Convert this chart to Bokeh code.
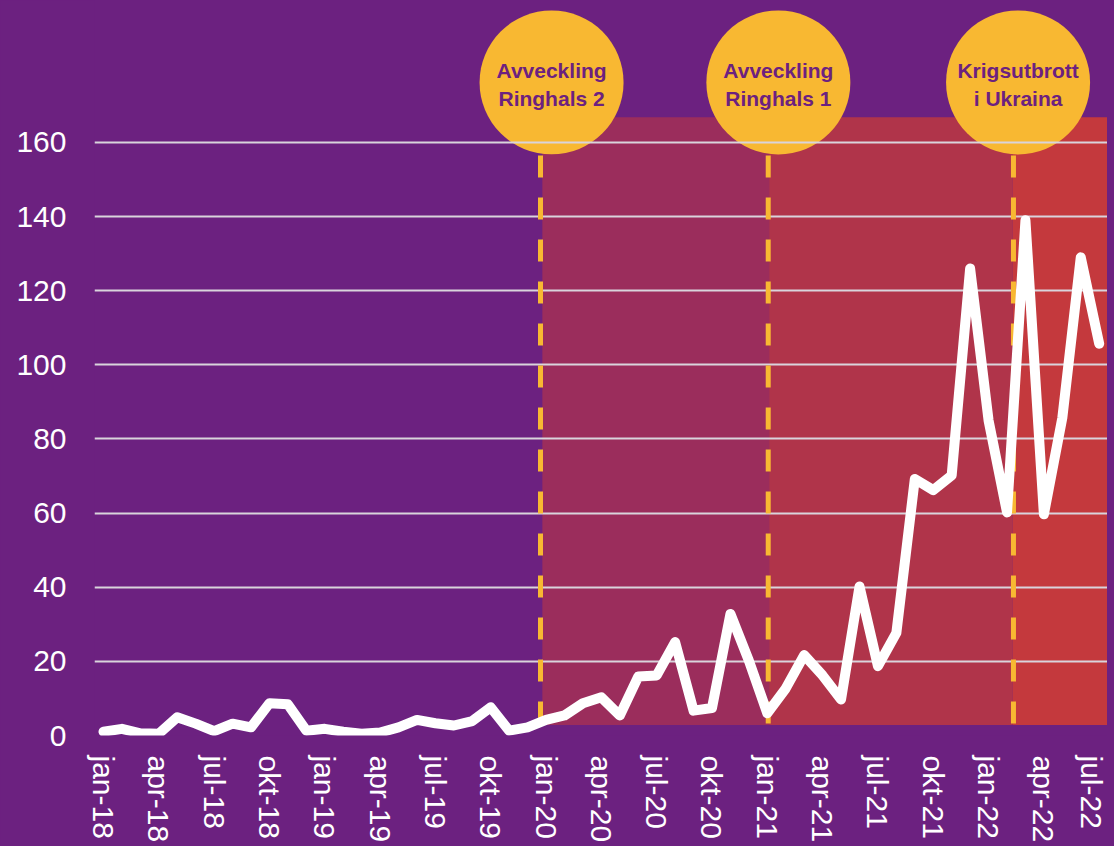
from bokeh.plotting import figure
from bokeh.models import FixedTicker, Range1d
from bokeh.core.properties import value
from bokeh.embed import file_html
from bokeh.resources import INLINE

# ---- data ----
month_index = list(range(55))  # jan-18 ... jul-22
prices = [1.0, 1.8, 0.6, 0.5, 4.9, 3.2, 1.2, 3.2, 2.2, 8.7,
          8.4, 1.3, 1.8, 1.0, 0.5, 0.8, 2.2, 4.2, 3.3, 2.7,
          3.9, 7.6, 1.3, 2.2, 4.2, 5.4, 8.7, 10.3, 5.4, 15.9,
          16.2, 25.2, 6.7, 7.4, 32.8, 20.2, 6.0, 12.7, 21.7, 16.2,
          9.7, 40.2, 18.7, 27.7, 69.2, 66.2, 70.2, 126.0, 85.0, 60.2,
          139.0, 59.7, 85.7, 129.0, 105.7]
tick_positions = [0, 3, 6, 9, 12, 15, 18, 21, 24, 27, 30, 33, 36, 39, 42, 45, 48, 51, 54]
tick_labels = ["jan-18", "apr-18", "jul-18", "okt-18", "jan-19", "apr-19", "jul-19", "okt-19",
               "jan-20", "apr-20", "jul-20", "okt-20", "jan-21", "apr-21", "jul-21", "okt-21",
               "jan-22", "apr-22", "jul-22"]
y_ticks = [0, 20, 40, 60, 80, 100, 120, 140, 160]

event_x = [23.7, 36.05, 49.35]
event_labels = ["Avveckling\nRinghals 2", "Avveckling\nRinghals 1", "Krigsutbrott\ni Ukraina"]
bubble_x = [24.3, 36.6, 49.6]
region_left = [23.8, 36.1, 49.3]
region_right = [36.1, 49.3, 54.6]
region_colors = ["#9B2D5C", "#B0344A", "#C4393D"]

PURPLE = "#6C2180"
YELLOW = "#F8B832"

p = figure(frame_width=1013, frame_height=735, output_backend="svg", toolbar_location=None,
           x_range=Range1d(-0.488, 54.45), y_range=Range1d(0, 198.3),
           min_border_left=94, min_border_right=0, min_border_top=0)
p.background_fill_alpha = 0
p.border_fill_color = PURPLE
p.outline_line_color = None

# shaded periods (below grid)
p.quad(left=region_left, right=region_right, bottom=[2.8] * 3, top=[166.8] * 3,
       fill_color=region_colors, line_color=None, level="image")

# bubbles (below grid)
p.scatter(x=bubble_x, y=[176.2] * 3, size=144, marker="circle",
          fill_color=YELLOW, line_color=None, level="image")
p.text(x=bubble_x, y=[176.2] * 3, text=event_labels, text_align="center",
       text_baseline="middle", text_font=value("Liberation Sans"), text_font_style="bold",
       text_font_size="21px", text_color=PURPLE, text_line_height=1.25, y_offset=2)

# dashed event lines
p.segment(x0=event_x, y0=[156.5] * 3, x1=event_x, y1=[0] * 3,
          line_color=YELLOW, line_width=5, line_dash="22 20")

# main line
p.line(month_index, prices, line_color="white", line_width=10,
       line_join="round", line_cap="round")

# grid
p.xgrid.grid_line_color = None
p.ygrid.grid_line_color = "#D9D4DC"
p.ygrid.grid_line_width = 2
p.ygrid.ticker = FixedTicker(ticks=y_ticks)

# axes
p.yaxis.ticker = FixedTicker(ticks=y_ticks)
p.xaxis.ticker = FixedTicker(ticks=tick_positions)
p.xaxis.major_label_overrides = {pos: lab for pos, lab in zip(tick_positions, tick_labels)}
p.xaxis.major_label_orientation = "vertical"
for ax in (p.xaxis[0], p.yaxis[0]):
    ax.axis_line_color = None
    ax.major_tick_line_color = None
    ax.minor_tick_line_color = None
    ax.major_tick_out = 0
    ax.major_tick_in = 0
    ax.major_label_text_color = "white"
    ax.major_label_text_font = "Liberation Sans"
    ax.major_label_text_font_size = "30px"
p.yaxis.major_label_standoff = 28
p.xaxis.major_label_standoff = 20

html = file_html(p, INLINE)
html = html.replace("</head>", "<style>html, body { background-color: #6C2180; }</style></head>", 1)
open("out.html", "w").write(html)
